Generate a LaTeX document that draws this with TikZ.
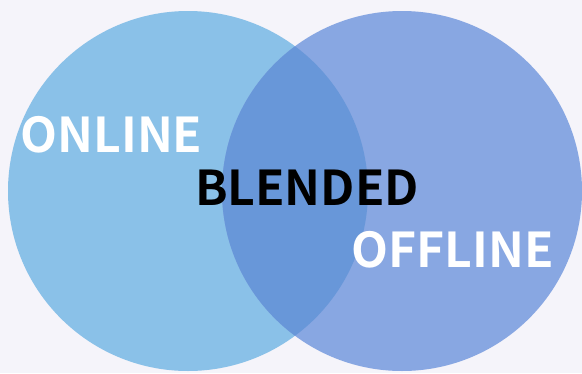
\documentclass[tikz,border=0pt]{standalone}
\usepackage{fontspec}
\setmainfont{Noto Sans CJK JP}[BoldFont={Noto Sans CJK JP Bold}]
\definecolor{bgc}{HTML}{F5F4FA}
\definecolor{leftc}{HTML}{8AC1E8}
\definecolor{rightc}{HTML}{88A7E2}
\definecolor{midc}{HTML}{6897D9}
\begin{document}
\begin{tikzpicture}[x=1pt,y=-1pt,
  lbl/.style={font=\bfseries\fontsize{48}{48}\selectfont, inner sep=0pt, anchor=center}]
\useasboundingbox (0,0) rectangle (582,373);
\fill[bgc] (0,0) rectangle (582,373);
\fill[leftc] (188,191) circle (180);
\fill[rightc] (402,191) circle (180);
\begin{scope}
\clip (188,191) circle (180);
\fill[midc] (402,191) circle (180);
\end{scope}
\node[lbl, text=white] (online) at (111.5,135) {ONLINE};
\node[lbl, text=black] (blended) at (307,188) {BLENDED};
\node[lbl, text=white] (offline) at (452.5,249.5) {OFFLINE};
\end{tikzpicture}
\end{document}
